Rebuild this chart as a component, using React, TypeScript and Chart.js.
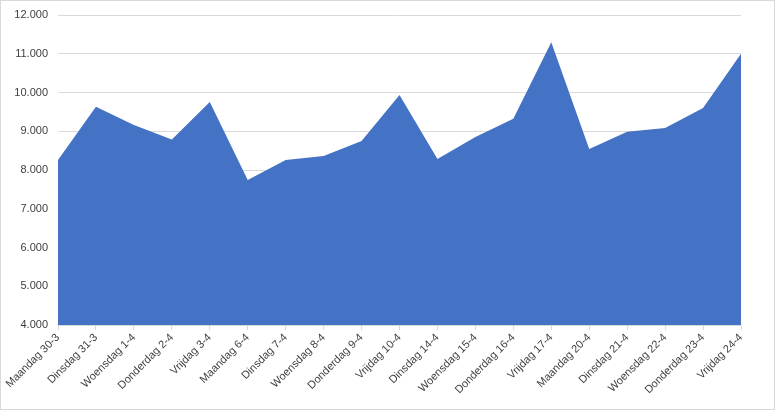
import React, { useEffect, useRef } from "react";
import { Chart, registerables } from "chart.js";

Chart.register(...registerables);

const categories: string[] = [
  "Maandag 30-3", "Dinsdag 31-3", "Woensdag 1-4", "Donderdag 2-4", "Vrijdag 3-4",
  "Maandag 6-4", "Dinsdag 7-4", "Woensdag 8-4", "Donderdag 9-4", "Vrijdag 10-4",
  "Dinsdag 14-4", "Woensdag 15-4", "Donderdag 16-4", "Vrijdag 17-4", "Maandag 20-4",
  "Dinsdag 21-4", "Woensdag 22-4", "Donderdag 23-4", "Vrijdag 24-4",
];

const values: number[] = [
  8260, 9630, 9160, 8790, 9755,
  7740, 8260, 8360, 8750, 9935,
  8285, 8850, 9320, 11300, 8540,
  8990, 9085, 9600, 11000,
];

const yMin = 4000;
const yMax = 12000;
const yStep = 1000;

function fmt(v: number): string {
  const s = Math.round(v).toString();
  return s.replace(/\B(?=(\d{3})+(?!\d))/g, ".");
}

export default function App() {
  const ref = useRef<HTMLCanvasElement | null>(null);

  useEffect(() => {
    document.body.style.margin = "0";
    const ctx = ref.current!;
    const font = { family: "'Liberation Sans', Arial, sans-serif", size: 11 };
    const chart = new Chart(ctx, {
      type: "line",
      data: {
        labels: categories,
        datasets: [
          {
            data: values,
            backgroundColor: "#4472C4",
            borderColor: "#4472C4",
            borderWidth: 0,
            pointRadius: 0,
            fill: "start",
            tension: 0,
          },
        ],
      },
      options: {
        responsive: false,
        animation: false,
        maintainAspectRatio: false,
        layout: { padding: { top: 14, right: 33, left: 0, bottom: 0 } },
        plugins: { legend: { display: false }, tooltip: { enabled: false } },
        scales: {
          x: {
            offset: false,
            grid: {
              drawOnChartArea: false,
              drawTicks: true,
              tickLength: 5,
              color: "#d9d9d9",
            },
            border: { color: "#d9d9d9" },
            ticks: {
              autoSkip: false,
              maxRotation: 45,
              minRotation: 45,
              padding: 1,
              color: "#404040",
              font,
            },
            afterFit: (s: any) => {
              s.height = 84;
            },
          },
          y: {
            min: yMin,
            max: yMax,
            grid: { color: "#d9d9d9", drawTicks: false },
            border: { display: false },
            ticks: {
              stepSize: yStep,
              padding: 10,
              color: "#404040",
              font,
              callback: (v: any) => fmt(Number(v)),
            },
            afterFit: (s: any) => {
              s.width = 57;
              s.paddingTop = 0;
              s.paddingBottom = 0;
            },
          },
        },
      },
    });
    return () => chart.destroy();
  }, []);

  return (
    <div
      style={{
        position: "absolute",
        left: 0,
        top: 0,
        width: 775,
        height: 410,
        boxSizing: "border-box",
        border: "1px solid #d9d9d9",
        background: "#fff",
      }}
    >
      <canvas ref={ref} width={773} height={408} style={{ display: "block" }} />
    </div>
  );
}
